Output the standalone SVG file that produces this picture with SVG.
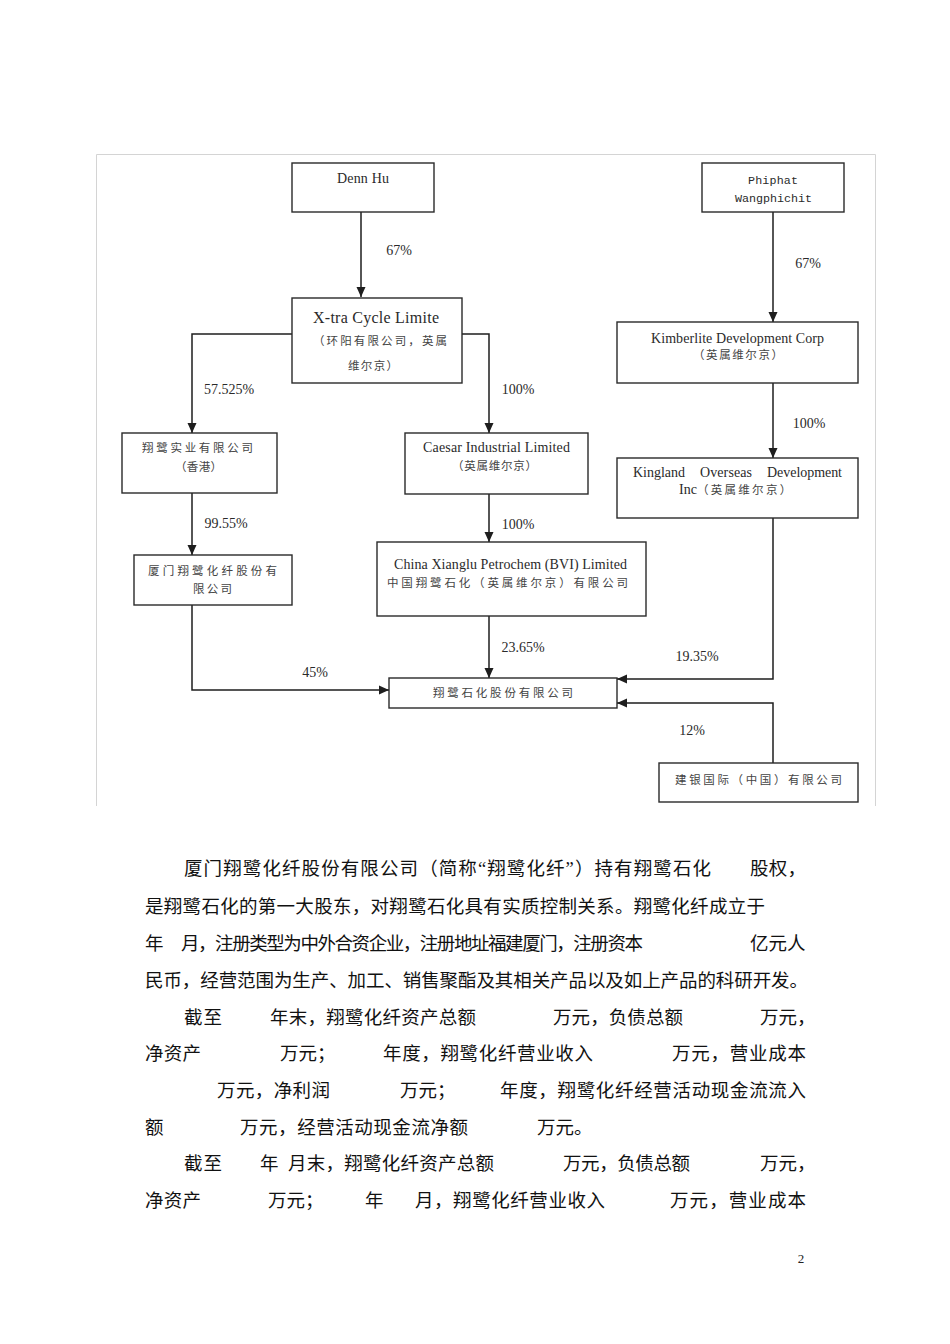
<svg xmlns="http://www.w3.org/2000/svg" width="950" height="1344" viewBox="0 0 950 1344">
<style>
.box{fill:#fff;stroke:#2a2a2a;stroke-width:1.4}
.en{font-family:"Liberation Serif","Noto Sans CJK SC",serif;font-size:14px;fill:#2a2a2a}
.cn{font-family:"Noto Sans CJK SC","Liberation Serif",sans-serif;font-size:11.5px;fill:#444}
.mono{font-family:"Liberation Mono",monospace;font-size:11.7px;fill:#2a2a2a}
.pct{font-family:"Liberation Serif",serif;font-size:14px;fill:#2a2a2a;text-anchor:middle}
.con{fill:none;stroke:#1e1e1e;stroke-width:1.5}
.body{font-family:"Liberation Serif","Noto Sans CJK SC",serif;font-size:18.5px;fill:#111}
</style>
<defs>
<marker id="ah" markerUnits="userSpaceOnUse" markerWidth="10" markerHeight="10" refX="10" refY="5" orient="auto" viewBox="0 0 10 10">
<path d="M0,0.5 L10,5 L0,9.5 z" fill="#1e1e1e"/>
</marker>
</defs>
<rect width="950" height="1344" fill="#fff"/>
<path d="M96.5,806 V154.5 H875.5 V806" fill="none" stroke="#d4d4d4" stroke-width="1"/>

<g id="connectors">
<path class="con" d="M361,212 V297" marker-end="url(#ah)"/>
<path class="con" d="M292,334 H192 V433" marker-end="url(#ah)"/>
<path class="con" d="M462,334 H489 V433" marker-end="url(#ah)"/>
<path class="con" d="M192,493 V555" marker-end="url(#ah)"/>
<path class="con" d="M192,605 V690 H389" marker-end="url(#ah)"/>
<path class="con" d="M489,494 V542" marker-end="url(#ah)"/>
<path class="con" d="M489,616 V678" marker-end="url(#ah)"/>
<path class="con" d="M773,212 V322" marker-end="url(#ah)"/>
<path class="con" d="M773,383 V458" marker-end="url(#ah)"/>
<path class="con" d="M773,518 V679 H617" marker-end="url(#ah)"/>
<path class="con" d="M773,763 V703 H617" marker-end="url(#ah)"/>
<text class="pct" x="399" y="255">67%</text>
<text class="pct" x="229" y="394">57.525%</text>
<text class="pct" x="518" y="394">100%</text>
<text class="pct" x="226" y="528">99.55%</text>
<text class="pct" x="518" y="529">100%</text>
<text class="pct" x="315" y="677">45%</text>
<text class="pct" x="523" y="652">23.65%</text>
<text class="pct" x="808" y="268">67%</text>
<text class="pct" x="809" y="428">100%</text>
<text class="pct" x="697" y="661">19.35%</text>
<text class="pct" x="692" y="735">12%</text>
</g>

<g id="denn-hu">
<rect class="box" x="292" y="163" width="142" height="49"/>
<text class="en" x="337" y="183" textLength="52">Denn Hu</text>
</g>

<g id="xtra-cycle">
<rect class="box" x="292" y="298" width="170" height="85"/>
<text class="en" x="313" y="323" style="font-size:16px" textLength="126">X-tra Cycle Limite</text>
<text class="cn" x="313" y="345" textLength="134">（环阳有限公司，英属</text>
<text class="cn" x="348" y="370" textLength="50">维尔京）</text>
</g>

<g id="xianglu-shiye">
<rect class="box" x="122" y="433" width="155" height="60"/>
<text class="cn" x="142" y="452" textLength="111">翔鹭实业有限公司</text>
<text class="cn" x="175" y="471" textLength="47">（香港）</text>
</g>

<g id="xiamen-xianglu">
<rect class="box" x="134" y="555" width="158" height="50"/>
<text class="cn" x="148" y="575" textLength="129">厦门翔鹭化纤股份有</text>
<text class="cn" x="193" y="593" textLength="39">限公司</text>
</g>

<g id="caesar">
<rect class="box" x="405" y="433" width="183" height="61"/>
<text class="en" x="423" y="452" textLength="147">Caesar Industrial Limited</text>
<text class="cn" x="452" y="470" textLength="85">（英属维尔京）</text>
</g>

<g id="china-xianglu">
<rect class="box" x="377" y="542" width="269" height="74"/>
<text class="en" x="394" y="569" textLength="233">China Xianglu Petrochem (BVI) Limited</text>
<text class="cn" x="387" y="587" textLength="241">中国翔鹭石化（英属维尔京）有限公司</text>
</g>

<g id="xianglu-petrochem">
<rect class="box" x="389" y="678" width="228" height="30"/>
<text class="cn" x="433" y="697" textLength="140">翔鹭石化股份有限公司</text>
</g>

<g id="phiphat">
<rect class="box" x="702" y="163" width="142" height="49"/>
<text class="mono" x="748" y="184" textLength="50">Phiphat</text>
<text class="mono" x="735" y="202" textLength="77">Wangphichit</text>
</g>

<g id="kimberlite">
<rect class="box" x="617" y="322" width="241" height="61"/>
<text class="en" x="651" y="343" textLength="173">Kimberlite Development Corp</text>
<text class="cn" x="693" y="359" textLength="90">（英属维尔京）</text>
</g>

<g id="kingland">
<rect class="box" x="617" y="458" width="241" height="60"/>
<text class="en" x="633" y="477" textLength="52">Kingland</text>
<text class="en" x="700" y="477" textLength="52">Overseas</text>
<text class="en" x="767" y="477" textLength="75">Development</text>
<text class="en" x="679" y="494">Inc<tspan class="cn" style="font-size:11.5px;letter-spacing:2.3px;fill:#444">（英属维尔京）</tspan></text>
</g>

<g id="jianyin">
<rect class="box" x="659" y="763" width="199" height="39"/>
<text class="cn" x="675" y="784" textLength="167">建银国际（中国）有限公司</text>
</g>

<g id="body-text">
<text class="body" x="184" y="875" textLength="527">厦门翔鹭化纤股份有限公司（简称“翔鹭化纤”）持有翔鹭石化</text>
<text class="body" x="750" y="875" textLength="56">股权，</text>
<text class="body" x="145" y="913" textLength="620">是翔鹭石化的第一大股东，对翔鹭石化具有实质控制关系。翔鹭化纤成立于</text>
<text class="body" x="145" y="950">年</text>
<text class="body" x="181" y="950" textLength="462">月，注册类型为中外合资企业，注册地址福建厦门，注册资本</text>
<text class="body" x="750" y="950">亿元人</text>
<text class="body" x="145" y="987" textLength="663">民币，经营范围为生产、加工、销售聚酯及其相关产品以及如上产品的科研开发。</text>
<text class="body" x="184" y="1024" textLength="38">截至</text>
<text class="body" x="270" y="1024" textLength="206">年末，翔鹭化纤资产总额</text>
<text class="body" x="553" y="1024" textLength="130">万元，负债总额</text>
<text class="body" x="760" y="1024">万元，</text>
<text class="body" x="145" y="1060" textLength="56">净资产</text>
<text class="body" x="280" y="1060">万元；</text>
<text class="body" x="383" y="1060" textLength="210">年度，翔鹭化纤营业收入</text>
<text class="body" x="672" y="1060" textLength="134">万元，营业成本</text>
<text class="body" x="217" y="1097" textLength="113">万元，净利润</text>
<text class="body" x="400" y="1097">万元；</text>
<text class="body" x="500" y="1097" textLength="306">年度，翔鹭化纤经营活动现金流流入</text>
<text class="body" x="145" y="1134">额</text>
<text class="body" x="240" y="1134" textLength="228">万元，经营活动现金流净额</text>
<text class="body" x="537" y="1134">万元。</text>
<text class="body" x="184" y="1170" textLength="38">截至</text>
<text class="body" x="260" y="1170">年</text>
<text class="body" x="288" y="1170" textLength="206">月末，翔鹭化纤资产总额</text>
<text class="body" x="563" y="1170" textLength="127">万元，负债总额</text>
<text class="body" x="760" y="1170">万元，</text>
<text class="body" x="145" y="1207" textLength="56">净资产</text>
<text class="body" x="268" y="1207">万元；</text>
<text class="body" x="365" y="1207">年</text>
<text class="body" x="415" y="1207" textLength="190">月，翔鹭化纤营业收入</text>
<text class="body" x="670" y="1207" textLength="136">万元，营业成本</text>
<text x="801" y="1263" style="font-family:'Liberation Serif',serif;font-size:13px;fill:#222" text-anchor="middle">2</text>
</g>
</svg>
